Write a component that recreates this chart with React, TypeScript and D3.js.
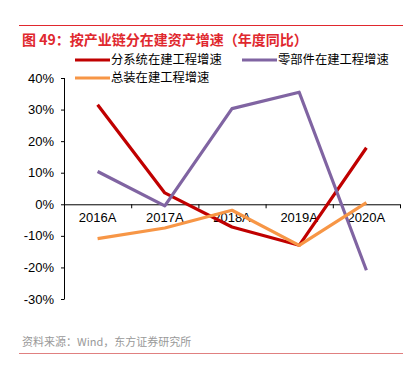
import React from "react";
import * as d3 from "d3";

const years = ["2016A", "2017A", "2018A", "2019A", "2020A"];
const subsystem = [31.5, 3.6, -7.2, -13.0, 17.9];
const parts = [10.4, -0.5, 30.3, 35.5, -20.9];
const assembly = [-10.9, -7.5, -1.9, -13.0, 0.5];
const yTicks = [40, 30, 20, 10, 0, -10, -20, -30];

const series = [
  { name: "分系统在建工程增速", values: subsystem, color: "#C00000" },
  { name: "零部件在建工程增速", values: parts, color: "#8064A2" },
  { name: "总装在建工程增速", values: assembly, color: "#F79646" },
];

const W = 418;
const H = 372;
const cjk = "'Noto Sans CJK SC', 'Liberation Sans', sans-serif";
const num = "'Liberation Sans', Arial, sans-serif";

export default function App() {
  const x = d3.scaleBand().domain(years).range([64, 400]);
  const y = d3.scaleLinear().domain([-30, 40]).range([299, 78]);
  const line = d3
    .line<number>()
    .x((_, i) => (x(years[i]) as number) + x.bandwidth() / 2)
    .y((d) => y(d));

  // legend rows sit just above the plot
  const legendPos = [
    { x: 75, y: 60 },
    { x: 242, y: 60 },
    { x: 75, y: 78 },
  ];

  return (
    <svg
      width={W}
      height={H}
      style={{ position: "absolute", left: 0, top: 0, background: "#fff" }}
    >
      <line x1={19} x2={403} y1={25.5} y2={25.5} stroke="#E0282E" strokeWidth={1} />
      <text x={22} y={45} fill="#E0282E" fontFamily={cjk} fontSize={14} fontWeight="bold">
        图 49：按产业链分在建资产增速（年度同比）
      </text>

      {/* y axis */}
      <line x1={64.5} x2={64.5} y1={y(40)} y2={y(-30)} stroke="#000" />
      {yTicks.map((t) => (
        <g key={t}>
          <line x1={61} x2={64.5} y1={y(t) + 0.5} y2={y(t) + 0.5} stroke="#000" />
          <text
            x={54}
            y={y(t)}
            dy="0.35em"
            textAnchor="end"
            fontFamily={num}
            fontSize={13}
            fill="#000"
          >
            {t}%
          </text>
        </g>
      ))}

      {/* x axis at zero */}
      <line x1={64} x2={400} y1={y(0) + 0.5} y2={y(0) + 0.5} stroke="#000" />
      {years.map((yr) => (
        <g key={yr}>
          <line
            x1={(x(yr) as number) + x.bandwidth() + 0.5}
            x2={(x(yr) as number) + x.bandwidth() + 0.5}
            y1={y(0)}
            y2={y(0) + 4}
            stroke="#000"
          />
          <text
            x={(x(yr) as number) + x.bandwidth() / 2}
            y={y(0) + 18}
            textAnchor="middle"
            fontFamily={num}
            fontSize={13}
            fill="#000"
          >
            {yr}
          </text>
        </g>
      ))}

      {series.map((s) => (
        <path
          key={s.name}
          d={line(s.values) as string}
          fill="none"
          stroke={s.color}
          strokeWidth={3.2}
          strokeLinejoin="round"
        />
      ))}

      {series.map((s, i) => (
        <g key={s.name} transform={`translate(${legendPos[i].x},${legendPos[i].y})`}>
          <line x1={0} x2={35} y1={0} y2={0} stroke={s.color} strokeWidth={3} />
          <text x={36} y={0} dy="0.36em" fontFamily={cjk} fontSize={12.3} fill="#000">
            {s.name}
          </text>
        </g>
      ))}

      <text x={22} y={346} fill="#999" fontFamily={cjk} fontSize={11}>
        资料来源：Wind，东方证券研究所
      </text>
      <line x1={19} x2={403} y1={353.5} y2={353.5} stroke="#E08080" strokeWidth={1} />
    </svg>
  );
}
